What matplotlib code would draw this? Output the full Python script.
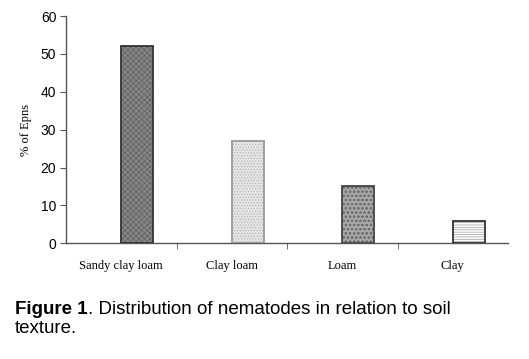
import numpy as np
import matplotlib
matplotlib.use("Agg")
import matplotlib.pyplot as plt

# data
soil_types = ["Sandy clay loam", "Clay loam", "Loam", "Clay"]
pct_epns = [52, 27, 15, 6]
y_ticks = [0, 10, 20, 30, 40, 50, 60]

face_colors = ["#878787", "#e4e4e4", "#a8a8a8", "#ffffff"]
hatch_colors = ["#5e5e5e", "#b4b4b4", "#6e6e6e", "#9a9a9a"]
hatches = ["xxxxxx", "......", "oooo", "-------"]
edge_colors = ["#333333", "#999999", "#444444", "#333333"]

W, H = 529, 359
fig = plt.figure(figsize=(W / 100, H / 100), dpi=100)
ax = fig.add_axes([66 / W, (H - 243.3) / H, 442 / W, 227.3 / H])

x = np.arange(len(soil_types))
plt.rcParams["hatch.linewidth"] = 0.5

# fill, then hatch pattern, then outline
ax.bar(x, pct_epns, width=0.29, align="edge", color=face_colors, linewidth=0, zorder=2)
for xi, v, hc, h in zip(x, pct_epns, hatch_colors, hatches):
    ax.bar(xi, v, width=0.29, align="edge", color="none", edgecolor=hc,
           hatch=h, linewidth=0, zorder=3)
ax.bar(x, pct_epns, width=0.29, align="edge", color="none",
       edgecolor=edge_colors, linewidth=1.3, zorder=4)

ax.set_xlim(-0.5, len(soil_types) - 0.5)
ax.set_ylim(0, 60)
ax.set_yticks(y_ticks)
ax.set_yticklabels([str(t) for t in y_ticks], fontfamily="Liberation Sans", fontsize=10)

# category labels centred, ticks at the category boundaries
ax.set_xticks(x)
ax.set_xticklabels(soil_types, fontfamily="Liberation Serif", fontsize=9)
ax.tick_params(axis="x", which="major", length=0, pad=12)
ax.set_xticks(np.arange(0.5, len(soil_types) - 0.5, 1), minor=True)
ax.tick_params(axis="x", which="minor", length=4, direction="out", color="#555555")
ax.tick_params(axis="y", length=4, direction="out", color="#555555", pad=3)

for side in ["top", "right"]:
    ax.spines[side].set_visible(False)
for side in ["left", "bottom"]:
    ax.spines[side].set_color("#555555")
    ax.spines[side].set_linewidth(1.0)

ax.set_ylabel("% of Epns", fontfamily="Liberation Serif", fontsize=9)
ax.yaxis.set_label_coords(-0.078, 0.5)

# caption below the chart
cap_size = 13.5
t1 = fig.text(15 / W, 1 - 314 / H, "Figure 1", fontfamily="Liberation Sans",
              fontweight="bold", fontsize=cap_size, va="baseline")
fig.canvas.draw()
bb = t1.get_window_extent()
fig.text(bb.x1 / W, 1 - 314 / H, ". Distribution of nematodes in relation to soil",
         fontfamily="Liberation Sans", fontsize=cap_size, va="baseline")
fig.text(15 / W, 1 - 333 / H, "texture.", fontfamily="Liberation Sans",
         fontsize=cap_size, va="baseline")

fig.savefig("out.png", dpi=100)
